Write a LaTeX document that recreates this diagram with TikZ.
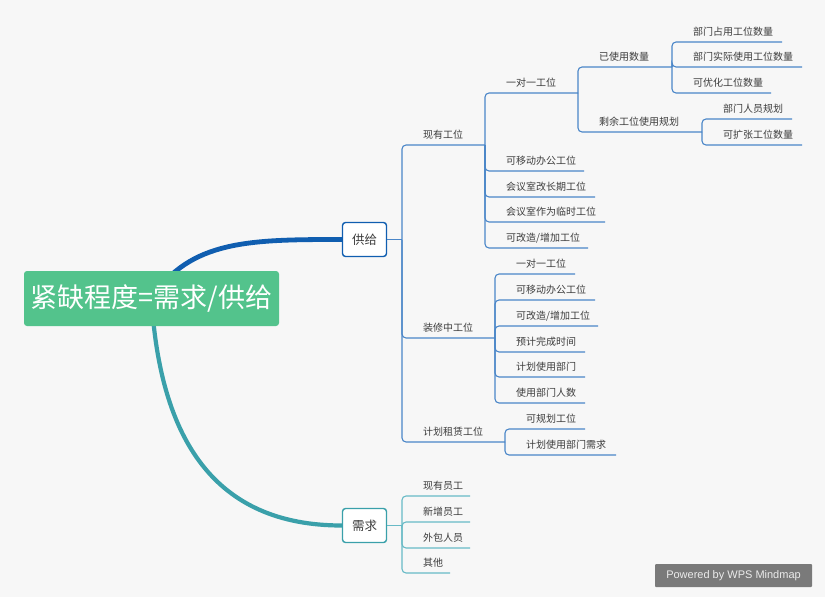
\documentclass[tikz,border=0pt]{standalone}
\usepackage{fontspec}
\newfontfamily\cjk{Noto Sans CJK SC}
\setsansfont{Liberation Sans}
\usetikzlibrary{backgrounds}
\definecolor{bgc}{RGB}{247,247,247}
\definecolor{rootgreen}{RGB}{83,195,140}
\definecolor{bluedark}{RGB}{16,94,176}
\definecolor{bluethin}{RGB}{74,134,200}
\definecolor{tealdark}{RGB}{58,160,170}
\definecolor{tealthin}{RGB}{104,186,198}
\definecolor{txtgray}{RGB}{60,60,60}
\definecolor{badgegray}{RGB}{122,122,122}
\newcommand\mmtopic[5]{%
  \coordinate (#1-s) at (#2,#3);
  \coordinate (#1-e) at (#4,#3);
  \node[lab] (#1) at (#2+21,#3-7) {#5};
}
\begin{document}
\begin{tikzpicture}[x=1pt,y=-1pt,
  lab/.style={anchor=base west,inner sep=0pt,text=txtgray,font=\cjk\fontsize{10}{12}\selectfont},
  rootbox/.style={fill=rootgreen,rounded corners=3pt,minimum width=255pt,minimum height=55pt,inner sep=0pt,text=white,font=\cjk\fontsize{27}{30}\selectfont},
  mainbox/.style={fill=white,rounded corners=3pt,line width=1.4pt,minimum width=44pt,minimum height=34pt,inner sep=0pt,text=txtgray,font=\cjk\fontsize{12.5}{14}\selectfont},
  blink/.style={draw=bluethin,line width=1.1pt,rounded corners=4pt},
  tlink/.style={draw=tealthin,line width=1.1pt,rounded corners=4pt},
  badge/.style={fill=badgegray,rounded corners=1pt,minimum width=157pt,minimum height=23pt,inner sep=0pt,text=white!92!black,font=\sffamily\fontsize{11}{13}\selectfont}]
\begin{scope}[on background layer]
  \fill[white] (0,0) rectangle (830,600);
  \fill[bgc] (0,0) rectangle (825,597);
\end{scope}
\useasboundingbox (0,0) rectangle (830,600);

% main nodes
\node[rootbox] (root) at (151.5,298.5) {紧缺程度=需求/供给};
\node[mainbox,draw=bluedark] (gj) at (364.5,239.5) {供给};
\node[mainbox,draw=tealdark] (xq) at (364.5,525.5) {需求};

\begin{scope}[on background layer]
  \draw[bluedark,line width=4.8pt] (root.center) .. controls (190,240) and (250,239.5) .. (gj.west);
  \draw[tealdark,line width=4.2pt] (root.center) .. controls (160,440) and (215,525.5) .. (xq.west);
\end{scope}

% supply branch
\coordinate (j1) at (402,239.5);
\mmtopic{xy}{402}{145}{485}{现有工位}
\mmtopic{zx}{402}{338}{495}{装修中工位}
\mmtopic{zl}{402}{442}{505}{计划租赁工位}

\mmtopic{a1}{485}{93}{578}{一对一工位}
\mmtopic{a2}{485}{171}{584}{可移动办公工位}
\mmtopic{a3}{485}{197}{595}{会议室改长期工位}
\mmtopic{a4}{485}{222}{605}{会议室作为临时工位}
\mmtopic{a5}{485}{248}{588}{可改造/增加工位}

\mmtopic{b1}{578}{67}{672}{已使用数量}
\mmtopic{b2}{578}{132}{702}{剩余工位使用规划}

\mmtopic{c1}{672}{42}{782}{部门占用工位数量}
\mmtopic{c2}{672}{67}{802}{部门实际使用工位数量}
\mmtopic{c3}{672}{93}{771}{可优化工位数量}

\mmtopic{d1}{702}{119}{792}{部门人员规划}
\mmtopic{d2}{702}{145}{802}{可扩张工位数量}

\mmtopic{e1}{495}{274}{575}{一对一工位}
\mmtopic{e2}{495}{300}{595}{可移动办公工位}
\mmtopic{e3}{495}{326}{598}{可改造/增加工位}
\mmtopic{e4}{495}{352}{585}{预计完成时间}
\mmtopic{e5}{495}{377}{585}{计划使用部门}
\mmtopic{e6}{495}{403}{585}{使用部门人数}

\mmtopic{f1}{505}{429}{585}{可规划工位}
\mmtopic{f2}{505}{455}{616}{计划使用部门需求}

\draw[blink] (gj.east) -- (j1);
\foreach \c in {xy,zx,zl} {\draw[blink] (j1) |- (\c-e);}
\foreach \c in {a1,a2,a3,a4,a5} {\draw[blink] (xy-e) |- (\c-e);}
\foreach \c in {b1,b2} {\draw[blink] (a1-e) |- (\c-e);}
\foreach \c in {c1,c2,c3} {\draw[blink] (b1-e) |- (\c-e);}
\foreach \c in {d1,d2} {\draw[blink] (b2-e) |- (\c-e);}
\foreach \c in {e1,e2,e3,e4,e5,e6} {\draw[blink] (zx-e) |- (\c-e);}
\foreach \c in {f1,f2} {\draw[blink] (zl-e) |- (\c-e);}

% demand branch
\coordinate (j2) at (402,525.5);
\mmtopic{g1}{402}{496}{470}{现有员工}
\mmtopic{g2}{402}{522}{470}{新增员工}
\mmtopic{g3}{402}{548}{470}{外包人员}
\mmtopic{g4}{402}{573}{450}{其他}
\draw[tlink] (xq.east) -- (j2);
\foreach \c in {g1,g2,g3,g4} {\draw[tlink] (j2) |- (\c-e);}

% badge
\node[badge] (wps) at (733.5,575.5) {Powered by WPS Mindmap};
\end{tikzpicture}
\end{document}
